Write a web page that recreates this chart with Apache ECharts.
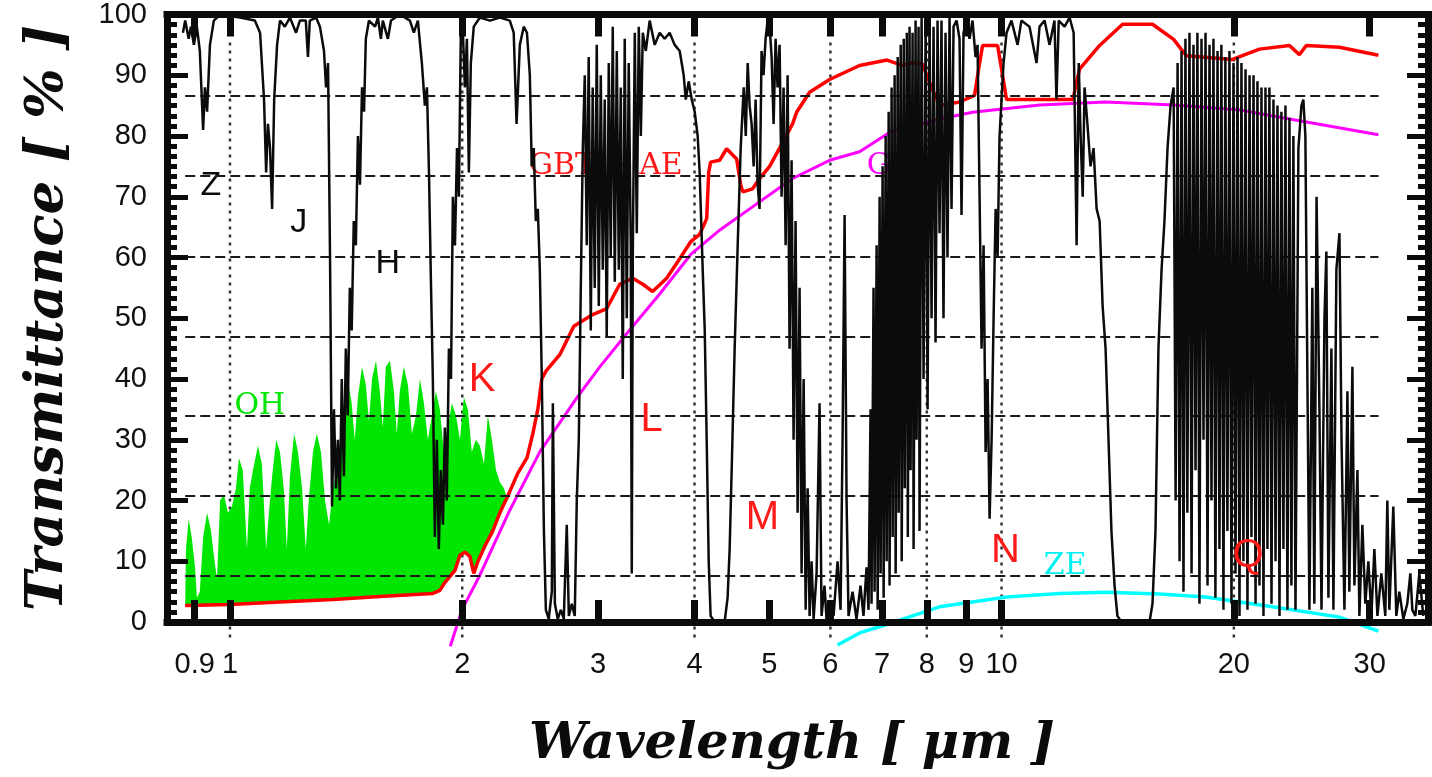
<!DOCTYPE html>
<html>
<head>
<meta charset="utf-8">
<title>Atmospheric transmittance</title>
<script src="https://cdn.jsdelivr.net/npm/echarts@6/dist/echarts.min.js"></script>
<style>
  html, body { margin: 0; padding: 0; background: #fff; }
  #chart { width: 1432px; height: 777px; }
</style>
</head>
<body>
<div id="chart"></div>
<script>
// tick values on the wavelength axis (micron)
var xTicks = [0.9, 1, 2, 3, 4, 5, 6, 7, 8, 9, 10, 20, 30]
var xGrid = [1, 2, 4, 6, 8, 10, 20]
var hGrid = [7.6, 20.7, 33.9, 46.9, 60.2, 73.5, 86.7]

// atmospheric transmission (black), [wavelength, %]
var skyTrans = [
  [0.869,97],[0.875,99],[0.884,96],[0.890,98],[0.898,95],[0.906,98],[0.914,94],[0.923,81],[0.928,88],[0.934,84],
  [0.942,95],[0.953,99],[0.971,100],[1.030,99.5],[1.077,99],[1.094,97],[1.107,86],[1.114,74],[1.120,82],[1.127,78],
  [1.134,68],[1.141,86],[1.151,95],[1.161,99],[1.178,98],[1.196,99.5],[1.218,97],[1.232,99],[1.254,99],[1.262,93],
  [1.269,99],[1.293,99.5],[1.308,98],[1.324,94],[1.332,88],[1.340,92],[1.348,60],[1.356,19],[1.364,35],[1.372,22],
  [1.380,30],[1.388,20],[1.396,40],[1.405,24],[1.413,45],[1.421,34],[1.430,55],[1.438,48],[1.447,66],[1.456,62],
  [1.465,80],[1.474,72],[1.483,88],[1.492,84],[1.500,96],[1.514,99],[1.542,98],[1.555,99.5],[1.569,96],[1.578,99],
  [1.602,96],[1.617,99],[1.660,100],[1.711,99],[1.731,97],[1.752,99],[1.773,92],[1.789,85],[1.800,88],[1.811,74],
  [1.821,57],[1.832,40],[1.843,14],[1.854,30],[1.865,12],[1.876,25],[1.888,16],[1.899,32],[1.910,20],[1.922,45],
  [1.934,40],[1.945,70],[1.957,62],[1.969,78],[1.980,70],[1.992,98],[2.004,97],[2.016,88],[2.028,96],[2.040,74],
  [2.052,92],[2.070,98],[2.108,99.5],[2.172,99],[2.238,99.5],[2.305,99],[2.332,97],[2.352,82],[2.375,95],[2.403,98],
  [2.426,97],[2.447,90],[2.461,75],[2.476,78],[2.491,66],[2.506,68],[2.521,58],[2.536,40],[2.552,15],[2.567,2],
  [2.589,0.5],[2.613,5],[2.621,36],[2.637,3],[2.660,0.5],[2.684,2],[2.708,0.5],[2.732,16],[2.749,1],[2.773,3],
  [2.798,1],[2.815,20],[2.832,30],[2.849,55],[2.866,78],[2.883,90],[2.900,62],[2.917,93],[2.935,48],[2.952,88],
  [2.970,55],[2.988,95],[3.006,52],[3.024,90],[3.042,58],[3.060,86],[3.078,47],[3.097,92],[3.115,60],[3.134,98],
  [3.153,56],[3.172,94],[3.191,58],[3.210,88],[3.229,40],[3.248,96],[3.268,50],[3.287,92],[3.307,62],[3.317,8],
  [3.327,60],[3.347,97],[3.367,64],[3.387,98],[3.408,80],[3.428,97],[3.459,94],[3.499,99],[3.552,95],[3.605,97],
  [3.659,96],[3.714,97],[3.770,95],[3.827,94],[3.873,90],[3.897,86],[3.931,89],[3.967,86],[4.002,84],[4.038,80],
  [4.062,74],[4.099,58],[4.124,48],[4.148,30],[4.173,10],[4.197,1],[4.247,0],[4.376,0],[4.415,4],[4.442,12],
  [4.469,25],[4.509,45],[4.550,62],[4.591,78],[4.633,88],[4.661,80],[4.688,92],[4.715,85],[4.743,82],[4.772,75],
  [4.800,86],[4.829,72],[4.857,68],[4.886,94],[4.915,90],[4.945,96],[4.975,99],[5.005,98],[5.035,93],[5.065,82],
  [5.095,96],[5.125,88],[5.156,95],[5.187,70],[5.218,88],[5.250,62],[5.281,90],[5.312,45],[5.344,76],[5.376,30],
  [5.408,66],[5.441,18],[5.473,55],[5.506,8],[5.540,40],[5.573,2],[5.606,22],[5.639,1],[5.673,10],[5.707,0.5],
  [5.758,8],[5.809,36],[5.844,1],[5.896,6],[5.931,0.5],[5.985,3],[6.057,1],[6.130,10],[6.185,2],[6.222,30],
  [6.260,67],[6.297,20],[6.334,1],[6.410,5],[6.487,0.5],[6.564,6],[6.623,1],[6.683,9],[6.723,2],[6.764,35],
  [6.784,3],[6.825,55],[6.846,5],[6.888,62],[6.909,2],[6.950,70],[6.970,8],[7.012,75],[7.033,4],[7.076,80],
  [7.097,10],[7.140,84],[7.159,6],[7.203,88],[7.225,14],[7.268,90],[7.290,8],[7.335,93],[7.356,18],[7.401,95],
  [7.423,10],[7.468,96],[7.491,22],[7.537,97],[7.560,14],[7.599,98],[7.622,25],[7.668,97],[7.691,12],[7.737,99],
  [7.760,30],[7.806,98],[7.829,15],[7.877,99.5],[7.924,40],[7.972,99],[8.019,35],[8.066,99.5],[8.115,50],[8.163,98],
  [8.212,46],[8.261,99],[8.310,64],[8.359,99],[8.409,50],[8.460,97],[8.510,60],[8.562,99.5],[8.613,68],[8.665,98],
  [8.743,99],[8.821,96],[8.874,67],[8.927,97],[9.007,99],[9.088,96],[9.170,99],[9.254,93],[9.309,95],[9.365,70],
  [9.421,45],[9.478,62],[9.535,28],[9.592,40],[9.649,17],[9.707,30],[9.765,50],[9.824,68],[9.882,60],[9.940,80],
  [10.00,86],[10.06,92],[10.15,97],[10.30,99],[10.49,95],[10.61,99],[10.87,98],[11.10,92],[11.20,98],[11.37,99],
  [11.54,95],[11.71,99],[11.78,86],[11.86,99],[12.07,98],[12.25,99.5],[12.40,97],[12.51,62],[12.59,92],[12.66,80],
  [12.74,70],[12.81,88],[12.92,82],[13.04,75],[13.16,78],[13.28,68],[13.40,66],[13.52,52],[13.64,45],[13.76,30],
  [13.88,15],[14.01,6],[14.13,1],[14.30,0],[15.55,0],[15.69,3],[15.83,15],[15.97,45],[16.12,58],[16.26,66],
  [16.41,78],[16.56,85],[16.71,88],[16.81,20],[16.91,92],[17.01,10],[17.11,94],[17.21,5],[17.31,96],[17.41,18],
  [17.52,97],[17.63,8],[17.73,95],[17.84,25],[17.94,97],[18.05,3],[18.16,96],[18.27,30],[18.38,97],[18.49,6],
  [18.60,95],[18.71,20],[18.82,96],[18.93,4],[19.05,94],[19.16,12],[19.27,95],[19.39,2],[19.50,93],[19.62,15],
  [19.74,94],[19.86,3],[19.98,92],[20.10,8],[20.22,93],[20.34,1],[20.46,92],[20.58,10],[20.71,91],[20.83,2],
  [20.96,90],[21.08,14],[21.21,90],[21.34,3],[21.46,89],[21.59,6],[21.72,88],[21.85,1],[21.98,88],[22.11,12],
  [22.24,88],[22.38,3],[22.51,86],[22.65,10],[22.78,85],[22.92,1],[23.05,84],[23.19,12],[23.33,85],[23.47,2],
  [23.61,83],[23.75,6],[23.89,80],[24.04,2],[24.25,78],[24.47,85],[24.61,86],[24.76,80],[24.91,40],[25.06,2],
  [25.28,55],[25.43,3],[25.60,70],[25.82,35],[25.98,2],[26.21,50],[26.36,61],[26.52,4],[26.76,45],[26.92,2],
  [27.16,58],[27.41,64],[27.58,30],[27.82,2],[28.07,38],[28.23,5],[28.49,42],[28.66,6],[28.92,25],[29.09,1],
  [29.35,16],[29.61,3],[29.88,10],[30.15,1],[30.42,12],[30.70,1],[31.06,8],[31.43,1],[31.62,20],[31.81,2],
  [32.19,19],[32.48,1],[32.77,5],[33.17,0.5],[33.56,3],[33.87,8],[34.07,2],[34.38,1],[34.79,8],[35.20,1]
]

// OH emission lines (green), upper edge
var ohTop = [
  [0.875,3],[0.877,12],[0.884,17],[0.892,14],[0.901,9],[0.906,4],[0.914,5],[0.923,14],[0.934,18],[0.945,15],
  [0.953,11],[0.962,7],[0.971,20],[0.982,21],[0.994,18],[1.006,19],[1.018,22],[1.027,27],[1.039,25],[1.052,12],
  [1.061,22],[1.071,25],[1.087,29],[1.100,26],[1.114,12],[1.120,16],[1.134,24],[1.148,30],[1.161,28],[1.174,22],
  [1.185,12],[1.196,24],[1.211,31],[1.225,28],[1.240,22],[1.254,12],[1.265,20],[1.281,28],[1.296,31],[1.312,28],
  [1.328,20],[1.344,16],[1.360,22],[1.376,25],[1.392,30],[1.409,34],[1.425,39],[1.438,36],[1.451,30],[1.465,37],
  [1.483,42],[1.500,39],[1.514,33],[1.528,40],[1.546,43],[1.564,38],[1.578,32],[1.592,42],[1.612,43],[1.631,38],
  [1.645,31],[1.660,38],[1.680,42],[1.701,39],[1.721,31],[1.742,34],[1.763,40],[1.784,36],[1.805,30],[1.827,34],
  [1.849,38],[1.871,35],[1.893,28],[1.916,32],[1.939,36],[1.963,34],[1.986,30],[2.010,37],[2.034,35],[2.058,28],
  [2.083,30],[2.108,29],[2.134,26],[2.159,34],[2.185,30],[2.212,25],[2.238,23],[2.265,22],[2.292,20]
]

// GBT + AE curve (red)
var gbtCurve = [
  [0.875,2.7],[1.000,2.9],[1.161,3.3],[1.360,3.7],[1.564,4.2],[1.832,4.7],[1.871,5.2],[1.899,6.5],[1.928,7.5],[1.957,8.5],
  [1.986,11],[2.016,11.5],[2.046,10.8],[2.070,8],[2.096,10],[2.140,12.5],[2.191,15],[2.238,18],[2.305,21.5],[2.361,24.5],
  [2.426,27],[2.469,31],[2.506,35],[2.536,40],[2.567,41.3],[2.676,44],[2.790,48.7],[2.952,50.6],[3.078,51.6],[3.200,55.6],
  [3.327,56.6],[3.428,55.6],[3.530,54.4],[3.681,56.6],[3.827,59.8],[3.955,62.6],[4.062,63.8],[4.148,66.4],[4.173,74],[4.197,75.7],
  [4.311,76],[4.402,77.9],[4.536,76.2],[4.591,72],[4.619,70.8],[4.757,71.3],[4.857,73],[5.005,75],[5.156,78],[5.360,82],
  [5.424,83.9],[5.639,87.2],[5.985,89.3],[6.545,91.6],[7.107,92.5],[7.445,91.6],[7.668,92.1],[7.900,91.8],[8.115,88],[8.310,85],
  [8.821,85.6],[9.226,86.7],[9.365,92],[9.449,94.9],[9.882,94.9],[10.03,90],[10.15,86],[12.37,86],[12.62,91],[13.40,94.9],
  [14.35,98.4],[15.69,98.4],[16.71,95.9],[17.36,93.2],[19.92,92.6],[21.59,94.3],[23.61,94.9],[24.32,93.4],[24.83,94.9],[27.41,94.6],
  [30.79,93.3]
]

// G curve (magenta)
var gcCurve = [
  [1.93,-4],[1.998,2],[2.108,7.7],[2.305,18.4],[2.521,28],[2.815,36.9],[3.015,42],[3.268,47.5],[3.605,54],[3.955,60.5],
  [4.311,64.5],[4.715,68],[5.360,73],[5.985,76],[6.545,77.4],[7.183,80.7],[8.310,82.8],[9.170,83.9],[11.20,85.1],[13.64,85.6],
  [16.71,85.1],[20.34,84.3],[23.61,82.8],[30.79,80.2]
]

// ZE curve (cyan)
var zeCurve = [
  [6.13,-3.8],[6.545,-1.8],[7.183,-0.2],[8.310,2.5],[10.15,4.1],[11.89,4.7],[13.64,4.9],[16.02,4.6],[18.38,4.1],[22.45,2.5],
  [27.41,0.8],[30.79,-1.5]
]

// in-plot annotations: [wavelength, %, text]
var bandNames = [
  [0.945, 71.9, 'Z'], [1.228, 65.8, 'J'], [1.602, 59.0, 'H']
]
var windowNames = [
  [2.122, 39.8, 'K'], [3.52, 33.2, 'L'], [4.90, 17.1, 'M'], [10.12, 11.7, 'N'], [20.87, 10.9, 'Q']
]
var curveNames = [
  [1.093, 35.5, 'OH', '#00e600'], [3.07, 75.0, 'GBT + AE', '#ff1a1a'],
  [6.69, 75.0, 'GC', '#ff00ff'], [12.09, 9.2, 'ZE', '#00f0f0']
]

var ink = '#0b0b0b'
var sans = 'Liberation Sans, Arial, sans-serif'
var serif = 'DejaVu Serif, serif'

var ohFloor = gbtCurve.filter(function (p) { return p[0] <= 2.31 })

function xAxisAt(pos, labels) {
  return {
    type: 'log', logBase: 10, min: 0.8287, max: 35.7, position: pos, z: 10,
    axisLine: { show: true, onZero: false, lineStyle: { color: ink, width: 7, cap: 'square' } },
    axisTick: { show: true, inside: true, length: 22, customValues: xTicks, lineStyle: { color: ink, width: 7 } },
    axisLabel: {
      show: labels, customValues: xTicks, margin: 28, color: '#111', fontSize: 29, fontFamily: sans,
      formatter: function (v) { return String(v) }
    },
    splitLine: { show: false }, minorTick: { show: false }
  }
}

function yAxisAt(pos, labels) {
  return {
    type: 'value', min: 0, max: 100, interval: 10, position: pos, z: 10,
    axisLine: { show: true, lineStyle: { color: ink, width: 7, cap: 'square' } },
    axisTick: { show: true, inside: true, length: 21, lineStyle: { color: ink, width: 5 } },
    minorTick: { show: true, splitNumber: 6, length: 10, lineStyle: { color: ink, width: 5 } },
    axisLabel: { show: labels, margin: 20, color: '#111', fontSize: 29, fontFamily: sans, padding: [10, 0, 0, 0] },
    splitLine: { show: false }
  }
}

var hLines = hGrid.map(function (v) { return [{ coord: [0.875, v] }, { coord: [30.8, v] }] })

// vertical dotted guides run from near the top down past the bottom axis
var vSeries = xGrid.map(function (v) {
  return {
    type: 'line', data: [[v, 95.4], [v, -3.3]], z: 1, clip: false, silent: true, symbol: 'none',
    lineStyle: { color: '#333', width: 2.5, type: [3, 5] }
  }
})

function labelItems(list, style) {
  return list.map(function (d) {
    return {
      value: [d[0], d[1]],
      label: Object.assign({ formatter: d[2] }, style(d))
    }
  })
}

function textSeries(items, z) {
  return {
    type: 'scatter', symbolSize: 0, z: z, silent: true, clip: false,
    itemStyle: { opacity: 1 }, data: items
  }
}

var option = {
  animation: false,
  backgroundColor: '#fff',
  grid: { left: 167, right: 4, top: 14, bottom: 155, containLabel: false },
  xAxis: [xAxisAt('bottom', true), xAxisAt('top', false)],
  yAxis: [yAxisAt('left', true), yAxisAt('right', false)],
  graphic: [
    {
      type: 'text', x: 792, y: 745, z: 100,
      style: {
        text: 'Wavelength [ \u03bcm ]', fill: ink, align: 'center', verticalAlign: 'middle',
        font: 'italic bold 51px ' + serif
      }
    },
    {
      type: 'text', x: 48, y: 318, rotation: Math.PI / 2, z: 100,
      style: {
        text: 'Transmittance [ % ]', fill: ink, align: 'center', verticalAlign: 'middle',
        font: 'italic bold 53px ' + serif
      }
    }
  ],
  series: [
    {
      name: 'grid', type: 'line', data: [], z: 1, clip: false, silent: true,
      markLine: {
        silent: true, symbol: 'none', label: { show: false }, animation: false,
        lineStyle: { color: '#1a1a1a', width: 2, type: [10, 5] },
        data: hLines
      }
    },
    textSeries(labelItems(bandNames, function () {
      return { show: true, position: [0, 0], align: 'center', verticalAlign: 'middle', color: ink, fontSize: 34, fontFamily: sans }
    }).concat(labelItems(curveNames, function (d) {
      return {
        show: true, position: [0, 0], align: d[2] === 'GC' ? 'left' : 'center', verticalAlign: 'middle',
        color: d[3], fontSize: 30, fontFamily: serif
      }
    })), 1),
    textSeries(labelItems(windowNames, function () {
      return { show: true, position: [0, 0], align: 'center', verticalAlign: 'middle', color: '#ff1a1a', fontSize: 40, fontFamily: sans }
    }), 6),
    {
      name: 'OH', type: 'custom', z: 2, silent: true, data: [[1, 1]],
      renderItem: function (params, api) {
        var pts = ohTop.concat(ohFloor.slice().reverse()).map(function (p) { return api.coord(p) })
        return { type: 'polygon', shape: { points: pts }, style: { fill: '#00e600' } }
      }
    },
    {
      name: 'GBT+AE', type: 'line', data: gbtCurve, z: 3, symbol: 'none', silent: true,
      lineStyle: { color: '#ff0000', width: 3.5 }
    },
    {
      name: 'GC', type: 'line', data: gcCurve, z: 4, symbol: 'none', silent: true, clip: false,
      lineStyle: { color: '#ff00ff', width: 3 }
    },
    {
      name: 'ZE', type: 'line', data: zeCurve, z: 4, symbol: 'none', silent: true, clip: false,
      lineStyle: { color: '#00ffff', width: 3.5 }
    },
    {
      name: 'sky', type: 'line', data: skyTrans, z: 5, symbol: 'none', silent: true,
      lineStyle: { color: ink, width: 2.5 }
    }
  ].concat(vSeries)
}

var chart = echarts.init(document.getElementById('chart'))
chart.setOption(option)
</script>
</body>
</html>
